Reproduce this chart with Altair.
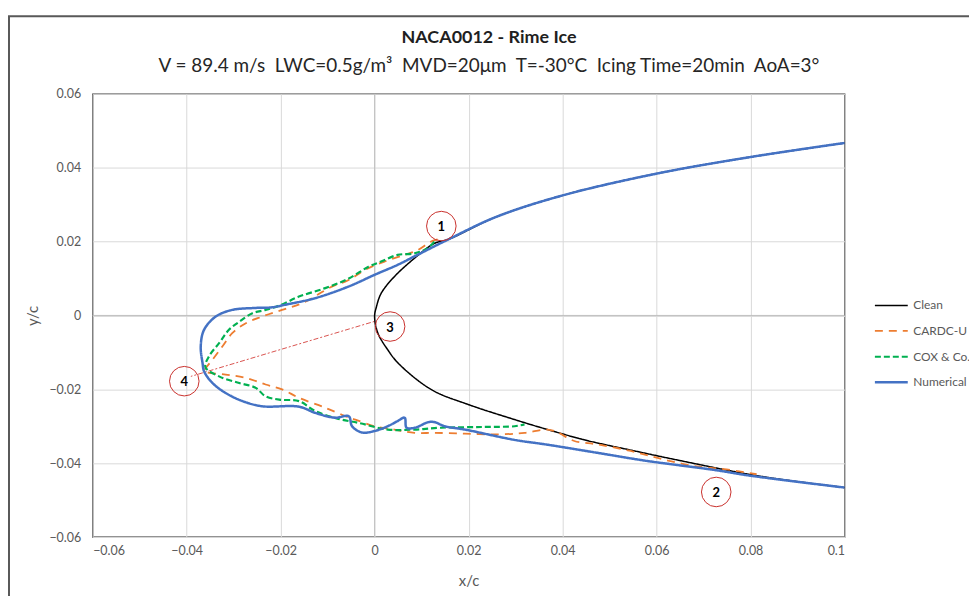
import altair as alt
import pandas as pd

# ---------------- data ----------------
series_names = ["Clean", "CARDC-U", "COX & Co.", "Numerical"]
series_colors = ["#000000", "#ED7D31", "#00B050", "#4472C4"]

clean_x = [0.1, 0.08, 0.06, 0.04, 0.0259, 0.0157, 0.0127, 0.0085, 0.0042, 0.0014, 0.0004, 0.0,
           0.0007, 0.0028, 0.005, 0.0121, 0.0199, 0.0298, 0.0368, 0.045, 0.055, 0.065, 0.08, 0.09, 0.1]
clean_y = [0.0467, 0.0429, 0.0384, 0.0325, 0.0267, 0.0206, 0.0195, 0.0155, 0.0105, 0.0060, 0.0024, -0.0003,
           -0.0048, -0.0093, -0.0129, -0.0201, -0.0241, -0.0282, -0.0309, -0.0338, -0.0366, -0.0393, -0.0431, -0.0450, -0.0466]

cardc_x = [0.0134, 0.012, 0.0092, 0.0064, 0.0021, -0.0021, -0.0055, -0.0091, -0.0154, -0.0197, -0.0239,
           -0.0274, -0.0303, -0.0324, -0.0345, -0.0359, -0.0363,
           -0.0317, -0.0274, -0.0232, -0.0197, -0.0161, -0.0105, -0.0062, -0.0041, 0.0, 0.0042, 0.0085,
           0.0127, 0.0192, 0.0262, 0.0319, 0.0368, 0.039, 0.0425, 0.0474, 0.0545, 0.0615, 0.0686, 0.0743, 0.0813]
cardc_y = [0.0206, 0.0200, 0.0177, 0.0164, 0.0146, 0.0123, 0.0096, 0.0078, 0.0033, 0.0015, -0.0003,
           -0.0021, -0.0048, -0.0084, -0.0120, -0.0142, -0.0151,
           -0.0160, -0.0169, -0.0187, -0.0200, -0.0223, -0.0250, -0.0273, -0.0282, -0.0300, -0.0309, -0.0318,
           -0.0318, -0.0320, -0.0322, -0.0318, -0.0309, -0.0317, -0.0340, -0.0349, -0.0367, -0.0390, -0.0409, -0.0416, -0.0430]

cox_x = [0.0127, 0.0113, 0.0085, 0.0049, 0.0014, -0.0013, -0.0055, -0.0105, -0.0161, -0.0200, -0.0232,
         -0.0260, -0.0288, -0.0310, -0.0331, -0.0352, -0.0360,
         -0.0331, -0.0288, -0.0253, -0.0232, -0.0203, -0.0161, -0.0126, -0.0077, -0.0034, 0.0028, 0.0085,
         0.0142, 0.0227, 0.0298, 0.0319]
cox_y = [0.0200, 0.0182, 0.0168, 0.0164, 0.0146, 0.0132, 0.0100, 0.0074, 0.0051, 0.0028, 0.0015,
         0.0006, -0.0017, -0.0039, -0.0075, -0.0110, -0.0140,
         -0.0165, -0.0183, -0.0196, -0.0219, -0.0228, -0.0232, -0.0259, -0.0280, -0.0291, -0.0309, -0.0309,
         -0.0304, -0.0302, -0.0300, -0.0295]

num_x = [0.1, 0.08, 0.06, 0.04, 0.0259, 0.0157, 0.0085, 0.0049, 0.0, -0.0056, -0.0126, -0.019, -0.0218,
         -0.026, -0.0303, -0.0338, -0.0363, -0.0370, -0.0366, -0.0363,
         -0.0345, -0.0317, -0.0281, -0.0239, -0.0161, -0.0126, -0.0084, -0.0055, -0.0048, -0.0027, 0.0,
         0.0028, 0.0049, 0.0064, 0.0068, 0.0086, 0.0114, 0.0128, 0.0149, 0.0192, 0.0298, 0.0368, 0.0474,
         0.058, 0.0721, 0.08, 0.1]
num_y = [0.0467, 0.0429, 0.0384, 0.0325, 0.0267, 0.0206, 0.0160, 0.0137, 0.0110, 0.0078, 0.0047, 0.0029, 0.0022,
         0.0020, 0.0015, -0.0003, -0.0039, -0.0084, -0.0130, -0.0151,
         -0.0183, -0.0210, -0.0232, -0.0246, -0.0247, -0.0264, -0.0277, -0.0273, -0.0300, -0.0317, -0.0313,
         -0.0300, -0.0286, -0.0277, -0.0304, -0.0304, -0.0289, -0.0289, -0.0300, -0.0309, -0.0337, -0.0350, -0.0372,
         -0.0394, -0.0418, -0.0434, -0.0466]

ann_labels = ["1", "2", "3", "4"]
ann_x = [0.0142, 0.0727, 0.0033, -0.0405]
ann_y = [0.0242, -0.0478, -0.0030, -0.0178]

guide_x = [0.0, -0.0391]
guide_y = [-0.0016, -0.0165]

x_ticks = [-0.06, -0.04, -0.02, 0, 0.02, 0.04, 0.06, 0.08, 0.1]
y_ticks = [-0.06, -0.04, -0.02, 0, 0.02, 0.04, 0.06]

title_text = "NACA0012 - Rime Ice"
subtitle_text = ("V = 89.4 m/s\u00a0\u00a0LWC=0.5g/m³\u00a0\u00a0MVD=20μm\u00a0\u00a0T=-30°C"
                 "\u00a0\u00a0Icing Time=20min\u00a0\u00a0AoA=3°")

# ---------------- tables ----------------
rows = []
for name, xs, ys in [("Clean", clean_x, clean_y), ("CARDC-U", cardc_x, cardc_y),
                     ("COX & Co.", cox_x, cox_y), ("Numerical", num_x, num_y)]:
    for i, (xv, yv) in enumerate(zip(xs, ys)):
        rows.append({"series": name, "i": i, "x": xv, "y": yv})
df = pd.DataFrame(rows)
ann = pd.DataFrame({"label": ann_labels, "x": ann_x, "y": ann_y})
guide = pd.DataFrame({"x": guide_x, "y": guide_y, "i": list(range(len(guide_x)))})
one = pd.DataFrame({"a": [0]})

xscale = alt.Scale(domain=[-0.06, 0.1], nice=False, zero=False)
yscale = alt.Scale(domain=[-0.06, 0.06], nice=False, zero=False)

xaxis = alt.Axis(values=x_ticks, format="~g", title="x/c", grid=True, domain=False, ticks=False,
                 labelPadding=8, titlePadding=16)
yaxis = alt.Axis(values=y_ticks, format="~g", title="y/c", grid=True, domain=False, ticks=False,
                 labelPadding=12, titlePadding=8)

frame = alt.Chart(one).mark_rect(
    fill="transparent", stroke="#595959", strokeWidth=2
).encode(x=alt.value(-84), x2=alt.value(900), y=alt.value(-78), y2=alt.value(560))

title_mark = alt.Chart(one).mark_text(font="Lato", fontSize=18, fontWeight="bold", color="#1F1F1F",
                                      align="center", baseline="middle").encode(
    x=alt.value(398), y=alt.value(-56), text=alt.value(title_text))
subtitle_mark = alt.Chart(one).mark_text(font="Lato", fontSize=19, color="#262626",
                                         align="center", baseline="middle").encode(
    x=alt.value(398), y=alt.value(-28), text=alt.value(subtitle_text))

zero_rules = alt.Chart(one).mark_rule(color="#BFBFBF", strokeWidth=1).encode(
    x=alt.datum(0, scale=xscale, axis=xaxis)
)
zero_rules_h = alt.Chart(one).mark_rule(color="#BFBFBF", strokeWidth=1).encode(
    y=alt.datum(0, scale=yscale, axis=yaxis)
)

guide_line = alt.Chart(guide).mark_line(color="#D9534F", strokeWidth=1, strokeDash=[2, 2, 5, 2]).encode(
    x=alt.X("x:Q", scale=xscale, axis=xaxis),
    y=alt.Y("y:Q", scale=yscale, axis=yaxis),
    order="i:Q",
)

lines = alt.Chart(df).mark_line(strokeCap="butt", interpolate="catmull-rom").encode(
    x=alt.X("x:Q", scale=xscale, axis=xaxis),
    y=alt.Y("y:Q", scale=yscale, axis=yaxis),
    order="i:Q",
    color=alt.Color("series:N", scale=alt.Scale(domain=series_names, range=series_colors),
                    sort=series_names, legend=alt.Legend(title=None)),
    strokeDash=alt.StrokeDash("series:N", sort=series_names,
                              scale=alt.Scale(domain=series_names,
                                              range=[[1, 0], [8, 6], [6, 3], [1, 0]]),
                              legend=alt.Legend(title=None)),
    strokeWidth=alt.StrokeWidth("series:N", scale=alt.Scale(domain=series_names, range=[1.5, 2.5, 2.5, 2.5]),
                                legend=None),
)

circles = alt.Chart(ann).mark_point(shape="circle", filled=False, size=880, color="#C9302C",
                                    strokeWidth=1, opacity=1).encode(
    x=alt.X("x:Q", scale=xscale, axis=xaxis),
    y=alt.Y("y:Q", scale=yscale, axis=yaxis),
)
labels = alt.Chart(ann).mark_text(font="Lato", fontSize=13, fontWeight="bold", color="#000000",
                                  dy=1).encode(
    x=alt.X("x:Q", scale=xscale, axis=xaxis),
    y=alt.Y("y:Q", scale=yscale, axis=yaxis),
    text="label:N",
)

chart = alt.layer(frame, title_mark, subtitle_mark, zero_rules, zero_rules_h, guide_line, lines,
                  circles, labels).properties(
    width=755,
    height=445,
    autosize=alt.AutoSizeParams(type="none"),
    padding={"left": 85, "top": 85, "right": 125, "bottom": 58},
).configure_view(
    stroke="#262626", strokeWidth=1.3
).configure_axis(
    gridColor="#D9D9D9", gridWidth=1, labelFont="Lato", labelFontSize=12.5, labelColor="#595959",
    titleFont="Lato", titleFontSize=15, titleColor="#595959", titleFontWeight="normal",
).configure_legend(
    orient="none", legendX=784, legendY=195, symbolType="stroke", symbolSize=1089,
    symbolStrokeWidth=2.5, labelFont="Lato", labelFontSize=12, labelColor="#595959",
    rowPadding=1.5, labelOffset=4, padding=0,
)

chart.save("out.html", embed_options={"renderer": "svg", "actions": False})
